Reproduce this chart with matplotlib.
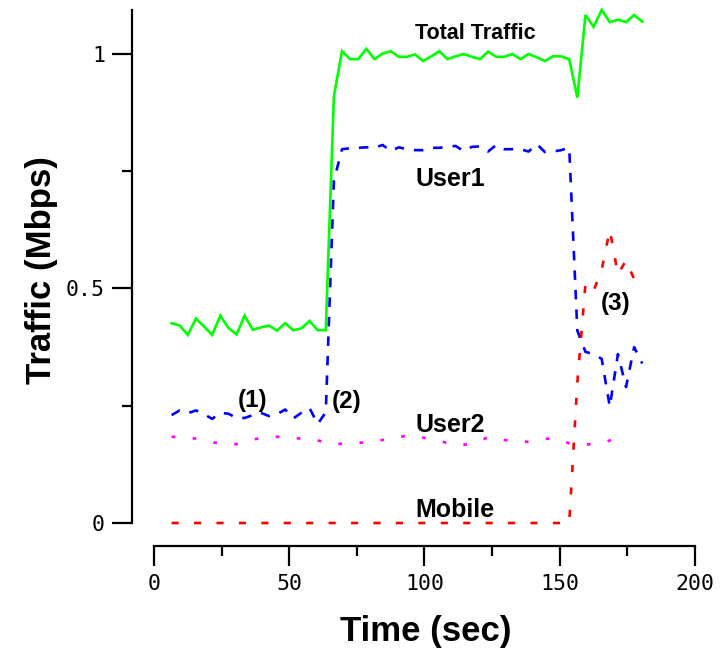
import matplotlib
matplotlib.use("Agg")
import matplotlib.pyplot as plt
from matplotlib import font_manager as fm
from matplotlib.ticker import MultipleLocator

# ---------------- data ----------------
time = [6.5, 9.5, 12.5, 15.5, 18.5, 21.5, 24.5, 27.5, 30.5, 33.5,
        36.5, 39.5, 42.5, 45.5, 48.5, 51.5, 54.5, 57.5, 60.5, 63.5,
        66.5, 69.5, 72.5, 75.5, 78.5, 81.5, 84.5, 87.5, 90.5, 93.5,
        96.5, 99.5, 102.5, 105.5, 108.5, 111.5, 114.5, 117.5, 120.5, 123.5,
        126.5, 129.5, 132.5, 135.5, 138.5, 141.5, 144.5, 147.5, 150.5, 153.5,
        156.5, 159.5, 162.5, 165.5, 168.5, 171.5, 174.5, 177.5, 180.5]

total = [0.426, 0.421, 0.401, 0.436, 0.419, 0.401, 0.442, 0.416, 0.402, 0.442,
         0.412, 0.417, 0.421, 0.410, 0.426, 0.411, 0.415, 0.431, 0.411, 0.411,
         0.910, 1.006, 0.989, 0.989, 1.011, 0.989, 1.001, 1.006, 0.994, 0.994,
         0.999, 0.985, 0.995, 1.006, 0.989, 0.995, 1.000, 0.994, 0.989, 1.005,
         0.994, 0.994, 1.000, 0.989, 1.000, 0.993, 0.985, 0.995, 0.995, 0.989,
         0.907, 1.083, 1.058, 1.094, 1.068, 1.073, 1.068, 1.083, 1.069]

user1 = [0.230, 0.240, 0.234, 0.240, 0.232, 0.222, 0.235, 0.233, 0.224, 0.224,
         0.230, 0.235, 0.228, 0.232, 0.242, 0.223, 0.235, 0.245, 0.211, 0.236,
         0.730, 0.797, 0.799, 0.800, 0.801, 0.800, 0.806, 0.793, 0.801, 0.797,
         0.795, 0.795, 0.800, 0.800, 0.802, 0.804, 0.793, 0.802, 0.803, 0.792,
         0.806, 0.797, 0.797, 0.797, 0.792, 0.808, 0.791, 0.792, 0.795, 0.800,
         0.410, 0.365, 0.360, 0.350, 0.248, 0.360, 0.290, 0.375, 0.340]

user2 = [0.184, 0.183, 0.181, 0.180, 0.176, 0.172, 0.170, 0.169, 0.168, 0.172,
         0.178, 0.181, 0.183, 0.184, 0.182, 0.181, 0.180, 0.178, 0.176, 0.172,
         0.168, 0.169, 0.170, 0.171, 0.172, 0.174, 0.177, 0.181, 0.183, 0.186,
         0.185, 0.182, 0.179, 0.176, 0.170, 0.166, 0.167, 0.168, 0.175, 0.183,
         0.180, 0.177, 0.175, 0.174, 0.173, 0.176, 0.179, 0.181, 0.176, 0.170,
         0.166, 0.167, 0.169, 0.170, 0.176, 0.186, 0.191]

mobile = [0.0, 0.0, 0.0, 0.0, 0.0, 0.0, 0.0, 0.0, 0.0, 0.0,
          0.0, 0.0, 0.0, 0.0, 0.0, 0.0, 0.0, 0.0, 0.0, 0.0,
          0.0, 0.0, 0.0, 0.0, 0.0, 0.0, 0.0, 0.0, 0.0, 0.0,
          0.0, 0.0, 0.0, 0.0, 0.0, 0.0, 0.0, 0.0, 0.0, 0.0,
          0.0, 0.0, 0.0, 0.0, 0.0, 0.0, 0.0, 0.0, 0.0, 0.0,
          0.300, 0.510, 0.495, 0.540, 0.625, 0.530, 0.560, 0.520, 0.530]

series_labels = ["Total Traffic", "User1", "User2", "Mobile"]
event_labels = ["(1)", "(2)", "(3)"]
xticks = [0, 50, 100, 150, 200]
yticks = [0, 0.5, 1]
ytick_labels = ["0", "0.5", "1"]

# ---------------- figure ----------------
W, H = 725, 658
fig = plt.figure(figsize=(W / 100, H / 100), dpi=100)
ax = fig.add_axes([154 / W, (H - 523) / H, 541 / W, 513 / H])
ax.set_xlim(0, 200)
ax.set_ylim(0, 1.0938)

lw = 1.9
ax.plot(time, total, color="#00ff00", lw=lw, solid_joinstyle="miter", clip_on=False)
ax.plot(time, user1, color="#0000ff", lw=lw, dashes=(3.6, 3.8), clip_on=False)
ax.plot(time[:len(user2)], user2, color="#ff00ff", lw=lw, dashes=(1.4, 6.6), clip_on=False)
ax.plot(time, mobile, color="#ff0000", lw=lw, dashes=(2.7, 5.8), clip_on=False)

for s in ("top", "right"):
    ax.spines[s].set_visible(False)
ax.spines["left"].set_position(("outward", 15.8))
ax.spines["bottom"].set_position(("outward", 16.5))
for s in ("left", "bottom"):
    ax.spines[s].set_linewidth(1.6)

ax.set_xticks(xticks)
ax.set_xticklabels([str(v) for v in xticks])
ax.set_yticks(yticks)
ax.set_yticklabels(ytick_labels)
ax.xaxis.set_minor_locator(MultipleLocator(25))
ax.yaxis.set_minor_locator(MultipleLocator(0.25))
ax.tick_params(which="major", length=14.4, width=1.6, direction="out")
ax.tick_params(which="minor", length=7.2, width=1.6, direction="out")
ax.tick_params(axis="y", which="major", pad=5)
ax.tick_params(axis="x", which="major", pad=6)
for lab in ax.get_xticklabels() + ax.get_yticklabels():
    lab.set_fontfamily("DejaVu Sans Mono")
    lab.set_fontsize(15.5)

names = {f.name for f in fm.fontManager.ttflist}
if "Liberation Sans Narrow" in names:
    tt_font = dict(family="Liberation Sans Narrow", size=18, weight="bold")
else:
    tt_font = dict(family="Liberation Sans", size=15.5, weight="bold")

lab_font = dict(family="Liberation Sans", size=18, weight="bold")
ax.text(96.5, 1.031, series_labels[0], ha="left", va="baseline", **tt_font)
ax.text(96.5, 0.7186, series_labels[1], ha="left", va="baseline", **lab_font)
ax.text(96.5, 0.194, series_labels[2], ha="left", va="baseline", **lab_font)
ax.text(96.5, 0.0128, series_labels[3], ha="left", va="baseline", **lab_font)

ev_font = dict(family="Liberation Sans", size=17.5, weight="bold")
ax.text(36.6, 0.248, event_labels[0], ha="center", va="baseline", **ev_font)
ax.text(71.3, 0.245, event_labels[1], ha="center", va="baseline", **ev_font)
ax.text(170.8, 0.454, event_labels[2], ha="center", va="baseline", **ev_font)

fig.text(41.5 / W, 1 - 270 / H, "Traffic (Mbps)", rotation=90, ha="center", va="center",
         family="Liberation Sans", size=25, weight="bold")
fig.text(426 / W, 1 - 632 / H, "Time (sec)", ha="center", va="center",
         family="Liberation Sans", size=25, weight="bold")

fig.savefig("out.png", dpi=100)
